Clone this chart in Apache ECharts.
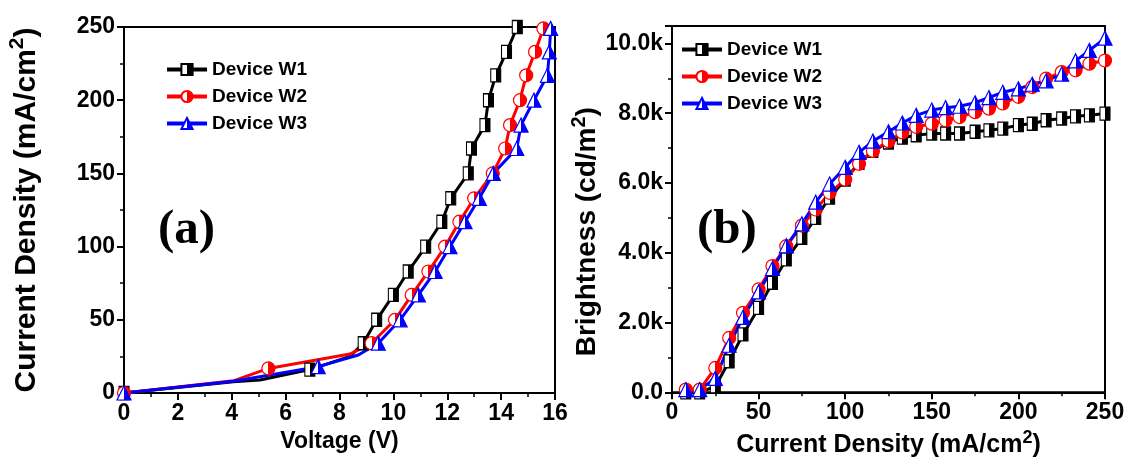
<!DOCTYPE html>
<html><head><meta charset="utf-8">
<script src="https://cdn.jsdelivr.net/npm/echarts@6/dist/echarts.min.js"></script>
<style>html,body{margin:0;padding:0;background:#fff}#c{width:1130px;height:463px}</style>
</head><body><div id="c"></div>
<script>
// ---------- data ----------
const seriesNames = ['Device W1', 'Device W2', 'Device W3'];

// Panel (a): Voltage (V) vs Current Density (mA/cm2)
const w1Voltage = [0, 4.06, 5.05, 6.9, 8.39, 8.88, 9.38, 10.0, 10.55, 11.2, 11.8, 12.13, 12.78, 12.9, 13.4, 13.53, 13.8, 14.2, 14.6];
const w1Current = [0, 7.7, 8.9, 16, 25, 34, 50, 67, 83, 100, 117, 133, 150, 167, 183, 200, 217, 233, 250];
const w2Voltage = [0, 4.06, 5.36, 8.39, 9.19, 10.06, 10.68, 11.3, 11.92, 12.45, 13.0, 13.69, 14.15, 14.33, 14.7, 14.93, 15.26, 15.57];
const w2Current = [0, 8.3, 16.8, 26.6, 34, 50, 67, 83, 100, 117, 133, 150, 167, 183, 200, 217, 233, 249];
const w3Voltage = [0, 4.06, 7.21, 8.7, 9.44, 10.25, 10.93, 11.55, 12.1, 12.66, 13.19, 13.71, 14.58, 14.74, 15.22, 15.72, 15.79, 15.84];
const w3Current = [0, 8, 18, 26, 34, 50, 67, 83, 100, 117, 133, 150, 167, 183, 200, 217, 233, 249];

// Panel (b): Current Density (mA/cm2) vs Brightness (cd/m2)
const bCurrent = [8, 16, 25, 33, 41, 50, 58, 66, 75, 83, 91, 100, 108, 116, 125, 133, 141, 150, 158, 166, 175, 183, 191, 200, 208, 216, 225, 233, 241, 250];
const w1Bright = [0, 0, 170, 890, 1660, 2420, 3140, 3810, 4430, 5000, 5580, 6100, 6580, 6920, 7160, 7300, 7370, 7420, 7420, 7420, 7470, 7510, 7560, 7660, 7700, 7800, 7850, 7910, 7940, 7990];
const w2Bright = [80, 80, 700, 1560, 2280, 2950, 3620, 4190, 4780, 5240, 5720, 6100, 6550, 6920, 7200, 7450, 7610, 7700, 7800, 7890, 8030, 8130, 8280, 8470, 8750, 8990, 9180, 9230, 9420, 9510];
const w3Bright = [80, 80, 400, 1350, 2150, 2880, 3550, 4200, 4830, 5450, 5970, 6450, 6880, 7200, 7470, 7720, 7940, 8090, 8160, 8200, 8300, 8450, 8600, 8700, 8830, 8930, 9120, 9500, 9800, 10150];

const aTicks = {xMin: 0, xMax: 16, xStep: 2, yMin: 0, yMax: 250, yStep: 50};
const bTicks = {xMin: 0, xMax: 250, xStep: 50, yMin: 0, yMax: 10500, yStep: 2000};

// ---------- styling ----------
const colors = ['#000000', '#ff0000', '#0000ff'];
const symbols = ['rect', 'circle', 'triangle'];
const symbolSizes = [[10, 13], 13, 14];
const FONT = 'Liberation Sans, Arial, sans-serif';
const hideA = [[1, 2, 4], [1, 3], [1, 3]];

function halfFill(c) {
  return new echarts.graphic.LinearGradient(0, 0, 1, 0, [
    {offset: 0, color: '#ffffff'}, {offset: 0.5, color: '#ffffff'},
    {offset: 0.5, color: c}, {offset: 1, color: c}
  ]);
}
function zip(xs, ys) { return xs.map((x, i) => [x, ys[i]]); }

function mkSeries(i, data, gi, hide) {
  return {
    name: seriesNames[i], type: 'line', xAxisIndex: gi, yAxisIndex: gi,
    data: data, clip: true,
    symbol: hide ? ((v, p) => hide.includes(p.dataIndex) ? 'none' : symbols[i]) : symbols[i],
    symbolSize: symbolSizes[i], showAllSymbol: true,
    lineStyle: {color: colors[i], width: 3},
    itemStyle: {color: halfFill(colors[i]), borderColor: colors[i], borderWidth: 1.2},
    emphasis: {disabled: true}, animation: false
  };
}

const axisCommon = {
  axisLine: {show: true, onZero: false, lineStyle: {color: '#000', width: 2}},
  axisTick: {show: true, inside: false, length: 7, lineStyle: {color: '#000', width: 2}},
  minorTick: {show: true, splitNumber: 2, length: 4, lineStyle: {color: '#000', width: 1.5}},
  splitLine: {show: false},
  axisLabel: {color: '#000', fontFamily: FONT, fontWeight: 'bold', fontSize: 23, margin: 9},
  nameLocation: 'middle'
};
function richName(size) {
  return {
    color: '#000', fontFamily: FONT, fontWeight: 'bold', fontSize: size,
    rich: {
      n: {color: '#000', fontFamily: FONT, fontWeight: 'bold', fontSize: size, lineHeight: size * 1.3},
      s: {color: '#000', fontFamily: FONT, fontWeight: 'bold', fontSize: Math.round(size * 0.7), verticalAlign: 'top', lineHeight: size * 1.3}
    }
  };
}

const legendCommon = {
  orient: 'vertical', itemWidth: 40, itemHeight: 14, itemGap: 8,
  lineStyle: {width: 4},
  textStyle: {color: '#000', fontFamily: FONT, fontWeight: 'bold', fontSize: 19},
  selectedMode: false, data: seriesNames
};

const option = {
  backgroundColor: '#ffffff',
  animation: false,
  grid: [
    {left: 124, top: 27, width: 431, height: 366, show: true, borderColor: '#000', borderWidth: 2, backgroundColor: 'transparent'},
    {left: 672, top: 26, width: 433, height: 367, show: true, borderColor: '#000', borderWidth: 2, backgroundColor: 'transparent'}
  ],
  legend: [
    Object.assign({left: 160, top: 55}, legendCommon),
    Object.assign({left: 675, top: 35}, legendCommon)
  ],
  xAxis: [
    Object.assign({}, axisCommon, {gridIndex: 0, type: 'value', min: aTicks.xMin, max: aTicks.xMax, interval: aTicks.xStep,
      name: 'Voltage (V)', nameGap: 33, nameTextStyle: {color: '#000', fontFamily: FONT, fontWeight: 'bold', fontSize: 23}}),
    Object.assign({}, axisCommon, {gridIndex: 1, type: 'value', min: bTicks.xMin, max: bTicks.xMax, interval: bTicks.xStep,
      name: '{n|Current Density (mA/cm}{s|2}{n|)}', nameGap: 34, nameTextStyle: richName(25)})
  ],
  yAxis: [
    Object.assign({}, axisCommon, {gridIndex: 0, type: 'value', min: aTicks.yMin, max: aTicks.yMax, interval: aTicks.yStep,
      name: '{n|Current Density (mA/cm}{s|2}{n|)}', nameGap: 78, nameTextStyle: richName(30)}),
    Object.assign({}, axisCommon, {gridIndex: 1, type: 'value', min: bTicks.yMin, max: bTicks.yMax, interval: bTicks.yStep,
      axisLabel: Object.assign({}, axisCommon.axisLabel, {showMaxLabel: false,
        formatter: v => v === 0 ? '0.0' : (v / 1000).toFixed(1) + 'k'}),
      name: '{n|Brightness (cd/m}{s|2}{n|)}', nameGap: 66,
      nameTextStyle: Object.assign(richName(28), {padding: [0, 45, 0, 0]})})
  ],
  graphic: [
    {type: 'text', left: 158, top: 206, style: {text: '(a)', fill: '#000', font: 'bold 49px "Liberation Serif", "Times New Roman", serif'}, z: 10},
    {type: 'text', left: 697, top: 206, style: {text: '(b)', fill: '#000', font: 'bold 49px "Liberation Serif", "Times New Roman", serif'}, z: 10}
  ],
  series: [
    mkSeries(0, zip(bCurrent, w1Bright), 1, null),
    mkSeries(1, zip(bCurrent, w2Bright), 1, null),
    mkSeries(2, zip(bCurrent, w3Bright), 1, null),
    mkSeries(0, zip(w1Voltage, w1Current), 0, hideA[0]),
    mkSeries(1, zip(w2Voltage, w2Current), 0, hideA[1]),
    mkSeries(2, zip(w3Voltage, w3Current), 0, hideA[2])
  ]
};

const chart = echarts.init(document.getElementById('c'), null, {renderer: 'canvas'});
chart.setOption(option);
</script>
</body></html>
